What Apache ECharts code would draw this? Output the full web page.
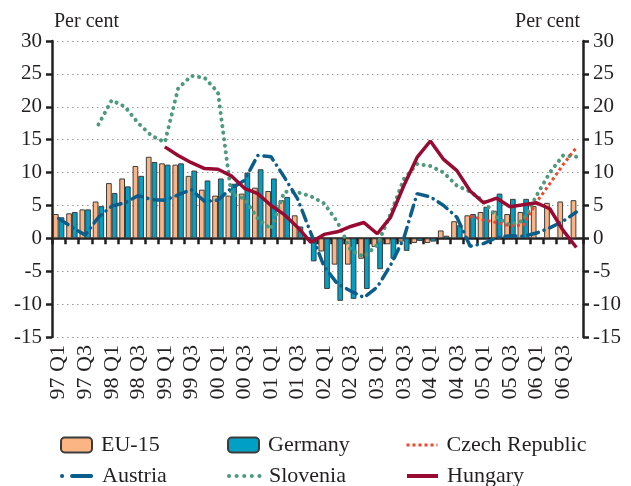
<!DOCTYPE html>
<html>
<head>
<meta charset="utf-8">
<script src="https://cdn.jsdelivr.net/npm/echarts@6/dist/echarts.min.js"></script>
<style>html,body{margin:0;padding:0;background:#fff}#c{width:631px;height:486px}</style>
</head>
<body>
<div id="c"></div>
<script>
var categories = ['97 Q1','97 Q2','97 Q3','97 Q4','98 Q1','98 Q2','98 Q3','98 Q4','99 Q1','99 Q2','99 Q3','99 Q4',
  '00 Q1','00 Q2','00 Q3','00 Q4','01 Q1','01 Q2','01 Q3','01 Q4','02 Q1','02 Q2','02 Q3','02 Q4',
  '03 Q1','03 Q2','03 Q3','03 Q4','04 Q1','04 Q2','04 Q3','04 Q4','05 Q1','05 Q2','05 Q3','05 Q4',
  '06 Q1','06 Q2','06 Q3','06 Q4'];
var eu15 = [3.7,3.8,4.4,5.6,8.4,9.1,11.0,12.4,11.4,11.2,9.5,7.4,6.5,6.5,6.8,7.7,7.2,5.8,3.5,-0.3,
  -2.0,-4.0,-4.0,-3.1,-1.3,-0.9,-0.5,-0.7,-0.7,1.2,2.6,3.5,4.0,4.2,3.7,4.0,4.9,5.4,5.6,5.8];
var germany = [3.2,4.0,4.4,4.9,6.9,7.9,9.5,11.6,11.2,11.4,10.3,8.8,9.1,8.3,10.0,10.5,9.1,6.3,1.8,-3.5,
  -7.7,-9.5,-9.2,-7.7,-4.7,-3.1,-1.9,-0.4,-0.5,0.4,2.0,3.7,4.8,6.8,6.0,6.0,null,null,null,null];
var czech = [null,null,null,null,null,null,null,null,null,null,null,null,null,null,null,null,null,null,null,null,
  null,null,null,null,null,null,null,null,null,null,null,3.4,2.8,2.4,1.9,2.0,5.5,8.3,11.2,13.8];
var austria = [3.0,1.7,0.5,3.2,4.9,5.4,6.5,5.9,5.8,6.6,7.4,5.6,5.8,7.6,8.8,12.6,12.4,9.3,6.0,0.8,
  -4.3,-6.9,-8.0,-9.0,-7.4,-4.1,0.0,6.8,6.3,5.0,3.2,-1.2,-0.8,0.1,0.4,0.3,0.8,1.6,2.6,4.0];
var slovenia = [null,null,null,17.3,21.0,20.0,17.5,15.6,14.6,22.8,24.7,24.4,22.2,6.8,6.0,3.0,1.4,7.1,7.0,6.4,
  5.3,2.5,-1.8,-2.8,-1.0,3.7,9.0,11.3,11.0,10.0,8.0,7.1,5.7,3.2,2.0,2.7,6.5,10.0,12.6,12.4];
var hungary = [null,null,null,null,null,null,null,null,13.9,12.6,11.5,10.6,10.5,9.5,7.6,6.8,5.0,3.6,1.7,-0.6,
  0.6,1.0,1.8,2.4,0.7,3.2,8.0,12.3,14.8,12.0,10.3,7.2,5.4,6.1,4.8,5.1,5.4,4.5,1.2,-1.4];
var yTicks = {min: -15, max: 30, interval: 5};

var FONT = '"Liberation Serif", "DejaVu Serif", serif';
var INK = '#231f20';
var C = {eu: '#fbb584', de: '#00a0c4', cz: '#f0462a', at: '#0b5d8c', si: '#4e9a7d', hu: '#990a33'};

var chart = echarts.init(document.getElementById('c'), null, {renderer: 'canvas'});

function yAxis(pos) {
  return {
    type: 'value', position: pos, min: yTicks.min, max: yTicks.max, interval: yTicks.interval,
    name: 'Per cent', nameLocation: 'end', nameGap: 9,
    nameTextStyle: {fontFamily: FONT, fontSize: 20, color: INK, align: pos === 'left' ? 'left' : 'right',
      verticalAlign: 'bottom', padding: pos === 'left' ? [0, 0, 0, 2] : [0, 3, 0, 0]},
    axisLine: {show: true, lineStyle: {color: INK, width: 2.5}},
    axisTick: {show: true, inside: false, length: 6, lineStyle: {color: INK, width: 2.5}},
    axisLabel: {fontFamily: FONT, fontSize: 21, color: INK, margin: 10},
    splitLine: {show: pos === 'left', lineStyle: {color: '#9a9a9a', width: 1, type: [1.5, 3.5]}}
  };
}

var legendText = {fontFamily: FONT, fontSize: 22, color: INK, padding: [0, 0, 0, 4]};
function legend(name, left, top, lineStyle) {
  var item = {name: name};
  if (lineStyle) { item.itemStyle = {opacity: 0}; item.lineStyle = lineStyle; }
  return {data: [item], left: left, top: top, itemWidth: 31, itemHeight: 15, padding: 0,
    textStyle: legendText, selectedMode: false};
}

chart.setOption({
  animation: false,
  backgroundColor: '#fff',
  grid: {left: 52, right: 48, top: 41, bottom: 149, containLabel: false},
  legend: [
    legend('EU-15', 60, 434, null),
    legend('Austria', 60, 465, {color: C.at, width: 4, type: [0.1, 10, 19, 60], cap: 'round'}),
    legend('Germany', 227, 434, null),
    legend('Slovenia', 227, 465, {color: C.si, width: 4, type: [0.1, 7.5], cap: 'round'}),
    legend('Czech Republic', 405, 434, {color: C.cz, width: 3, type: [3, 3], cap: 'butt'}),
    legend('Hungary', 405, 465, {color: C.hu, width: 4, type: 'solid'})
  ],
  xAxis: [{
    type: 'category', data: categories, boundaryGap: true, position: 'bottom',
    axisLine: {show: false, onZero: false},
    axisTick: {show: false},
    axisLabel: {interval: 1, rotate: 90, margin: 8, fontFamily: FONT, fontSize: 22, color: INK},
    splitLine: {show: false}
  }, {
    type: 'category', data: categories, boundaryGap: true, position: 'bottom',
    axisLine: {show: true, onZero: true, onZeroAxisIndex: 0, lineStyle: {color: INK, width: 2.5}},
    axisTick: {show: true, interval: 0, length: 6, lineStyle: {color: INK, width: 2.5}},
    axisLabel: {show: false},
    splitLine: {show: false}
  }],
  yAxis: [yAxis('left'), yAxis('right')],
  series: [
    {name: 'EU-15', type: 'bar', data: eu15, barGap: '0%', barCategoryGap: '14%',
      itemStyle: {color: C.eu, borderColor: '#3c3c3c', borderWidth: 1}},
    {name: 'Germany', type: 'bar', data: germany, barGap: '0%', barCategoryGap: '14%',
      itemStyle: {color: C.de, borderColor: '#3c3c3c', borderWidth: 1}},
    {name: 'Slovenia', type: 'line', data: slovenia, symbol: 'none', connectNulls: false,
      lineStyle: {color: C.si, width: 4, type: [0.1, 6.5], cap: 'round'}, itemStyle: {color: C.si}},
    {name: 'Austria', type: 'line', data: austria, symbol: 'none', connectNulls: false,
      lineStyle: {color: C.at, width: 3.5, type: [11, 6, 0.1, 6], cap: 'round'}, itemStyle: {color: C.at}},
    {name: 'Czech Republic', type: 'line', data: czech, symbol: 'none', connectNulls: false,
      lineStyle: {color: C.cz, width: 3, type: [3, 3]}, itemStyle: {color: C.cz}},
    {name: 'Hungary', type: 'line', data: hungary, symbol: 'none', connectNulls: false,
      lineStyle: {color: C.hu, width: 3.5}, itemStyle: {color: C.hu}}
  ]
});
</script>
</body>
</html>
